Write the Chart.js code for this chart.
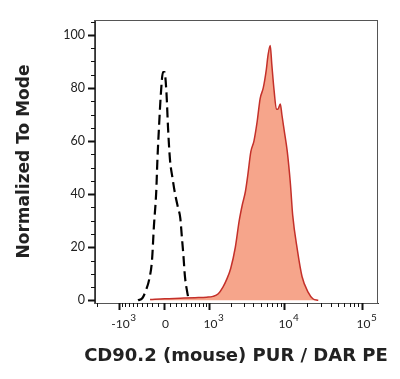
<!DOCTYPE html>
<html lang="en">
<head>
    <meta charset="UTF-8">
    <title>CD90.2 (mouse) histogram</title>
    <script src="https://cdn.jsdelivr.net/npm/chart.js"></script>
    <style>
        html, body { margin: 0; padding: 0; background: #fff; }
        #wrap { width: 400px; height: 379px; }
    </style>
</head>
<body>
<div id="wrap"><canvas id="histChart"></canvas></div>

<script>
// x values are display positions on the biexponential axis (decades from zero)
const isoX = [-0.335, -0.28, -0.23, -0.19, -0.155, -0.13, -0.10, -0.085, -0.065, -0.04, -0.013, 0.006,
              0.032, 0.052, 0.077, 0.11, 0.14, 0.18, 0.21, 0.23, 0.25, 0.27, 0.30, 0.32];
const isoY = [0, 0.8, 4, 8, 15, 28, 41, 53, 65, 78, 86, 86,
              78, 65, 53, 46, 40.5, 35, 31, 24, 17, 9, 3, 0];

const cd90X = [-0.18, 0.01, 0.21, 0.40, 0.55, 0.63, 0.70, 0.76, 0.81, 0.86, 0.92, 0.97, 1.01, 1.05,
               1.08, 1.12, 1.16, 1.20, 1.24, 1.28, 1.32, 1.34, 1.37, 1.39, 1.42, 1.45, 1.47, 1.50,
               1.52, 1.55, 1.59, 1.63, 1.66, 1.72, 1.78, 1.86, 1.92, 1.99];
const cd90Y = [0.3, 0.6, 0.8, 1.0, 1.2, 1.5, 2.5, 5, 8, 12, 20, 30, 36, 41,
               47, 56, 60, 67, 76, 80, 87, 92, 96, 89, 79, 72, 72, 74,
               70, 64, 56, 44, 32, 19, 9, 3, 0.6, 0];

// axis ticks as fluorescence values
const xMajor = [-1000, 0, 1000, 10000, 100000];
const xLabelBase = ['-10', '0', '10', '10', '10'];
const xLabelExp = ['3', '', '3', '4', '5'];
const xMinor = [-2000, -900, -800, -700, -600, -500, -400, -300, -200, -100,
                100, 200, 300, 400, 500, 600, 700, 800, 900,
                2000, 3000, 4000, 5000, 6000, 7000, 8000, 9000,
                20000, 30000, 40000, 50000, 60000, 70000, 80000, 90000];
const yMajor = [0, 20, 40, 60, 80, 100];
const yMinor = [5, 10, 15, 25, 30, 35, 45, 50, 55, 65, 70, 75, 85, 90, 95, 105];

const xTitle = 'CD90.2 (mouse) PUR / DAR PE';
const yTitle = 'Normalized To Mode';

// biexponential (arcsinh) display transform
function toDisplay(v) {
    return Math.asinh(v / 565) / Math.LN10;
}

function majorIndex(value) {
    return xMajor.findIndex(v => Math.abs(toDisplay(v) - value) < 1e-9);
}

const toPoints = (xs, ys) => xs.map((x, i) => ({ x: x, y: ys[i] }));

const fontFamily = 'Lato, "Liberation Sans", sans-serif';
const titleFamily = '"DejaVu Sans", sans-serif';

// tick marks (long for majors), power-of-ten labels, x title and the frame round the plot
const axisMarks = {
    id: 'axisMarks',
    afterDraw(chart) {
        const { ctx, chartArea: a, scales: { x, y } } = chart;
        ctx.save();
        ctx.strokeStyle = '#555';
        ctx.lineWidth = 1;
        ctx.strokeRect(a.left - 0.5, a.top + 0.5, a.right - a.left, a.bottom - a.top);
        ctx.strokeStyle = '#111';
        y.ticks.forEach(t => {
            const major = t.label !== '';
            const py = Math.round(y.getPixelForValue(t.value)) + 0.5;
            ctx.lineWidth = major ? 2 : 1;
            ctx.beginPath();
            ctx.moveTo(a.left - (major ? 7 : 4), py);
            ctx.lineTo(a.left, py);
            ctx.stroke();
        });
        ctx.fillStyle = '#222';
        ctx.textBaseline = 'alphabetic';
        x.ticks.forEach(t => {
            const i = majorIndex(t.value);
            const px = Math.round(x.getPixelForValue(t.value)) + 0.5;
            ctx.lineWidth = i >= 0 ? 2 : 1;
            ctx.beginPath();
            ctx.moveTo(px, a.bottom);
            ctx.lineTo(px, a.bottom + (i >= 0 ? 7 : 4));
            ctx.stroke();
            if (i >= 0) {
                ctx.font = '12px ' + fontFamily;
                ctx.textAlign = 'center';
                const base = xLabelBase[i];
                const w = ctx.measureText(base).width;
                const cx = px + 1;
                ctx.fillText(base, cx, a.bottom + 25);
                if (xLabelExp[i]) {
                    ctx.font = '10px ' + fontFamily;
                    ctx.textAlign = 'left';
                    ctx.fillText(xLabelExp[i], cx + w / 2 + 0.5, a.bottom + 18);
                }
            }
        });
        // x title is wider than the plot, so it is drawn here without squeezing
        ctx.font = 'bold 18px ' + titleFamily;
        ctx.textAlign = 'center';
        ctx.textBaseline = 'middle';
        ctx.fillText(xTitle, (a.left + a.right) / 2 - 0.5, 356);
        ctx.restore();
    }
};

new Chart(document.getElementById('histChart').getContext('2d'), {
    type: 'line',
    data: {
        datasets: [{
            label: 'Isotype',
            data: toPoints(isoX, isoY),
            borderColor: '#000',
            borderWidth: 2.2,
            borderDash: [10, 5],
            pointRadius: 0,
            fill: false,
            cubicInterpolationMode: 'monotone'
        }, {
            label: 'CD90.2',
            data: toPoints(cd90X, cd90Y),
            borderColor: '#C4302A',
            backgroundColor: '#F6A58B',
            borderWidth: 1.5,
            pointRadius: 0,
            fill: 'origin',
            cubicInterpolationMode: 'monotone'
        }]
    },
    options: {
        responsive: true,
        maintainAspectRatio: false,
        animation: false,
        layout: { padding: { top: 20, right: 22, left: 0, bottom: 0 } },
        plugins: {
            legend: { display: false },
            tooltip: { enabled: false }
        },
        scales: {
            x: {
                type: 'linear',
                min: -0.89,
                max: 2.76,
                afterFit(scale) { scale.height = 76; },
                afterBuildTicks(scale) {
                    const ticks = xMajor.concat(xMinor).map(v => ({ value: toDisplay(v) }));
                    scale.ticks = ticks.filter(t => t.value >= scale.min && t.value <= scale.max)
                        .sort((p, q) => p.value - q.value);
                },
                ticks: {
                    autoSkip: false,
                    maxRotation: 0,
                    padding: 4,
                    color: 'rgba(0,0,0,0)',
                    font: { family: fontFamily, size: 12 },
                    callback(value) {
                        const i = majorIndex(value);
                        return i >= 0 ? xLabelBase[i] + xLabelExp[i] : '';
                    }
                },
                grid: { drawOnChartArea: false, drawTicks: true, tickLength: 6, tickColor: 'rgba(0,0,0,0)' },
                border: { display: true, color: '#333', width: 1 },
                title: { display: false }
            },
            y: {
                min: -1,
                max: 105.6,
                afterFit(scale) { scale.width = 95; },
                afterBuildTicks(scale) {
                    scale.ticks = yMajor.concat(yMinor).sort((p, q) => p - q).map(v => ({ value: v }));
                },
                ticks: {
                    autoSkip: false,
                    padding: 4,
                    color: '#222',
                    font: { family: fontFamily, size: 12.5 },
                    callback(value) {
                        return yMajor.includes(value) ? String(value) : '';
                    }
                },
                grid: { drawOnChartArea: false, drawTicks: true, tickLength: 6, tickColor: 'rgba(0,0,0,0)' },
                border: { display: true, color: '#333', width: 1 },
                title: {
                    display: true,
                    text: yTitle,
                    color: '#222',
                    font: { family: titleFamily, size: 17, weight: 'bold' },
                    padding: { top: 14, bottom: 14 }
                }
            }
        }
    },
    plugins: [axisMarks]
});
</script>
</body>
</html>
